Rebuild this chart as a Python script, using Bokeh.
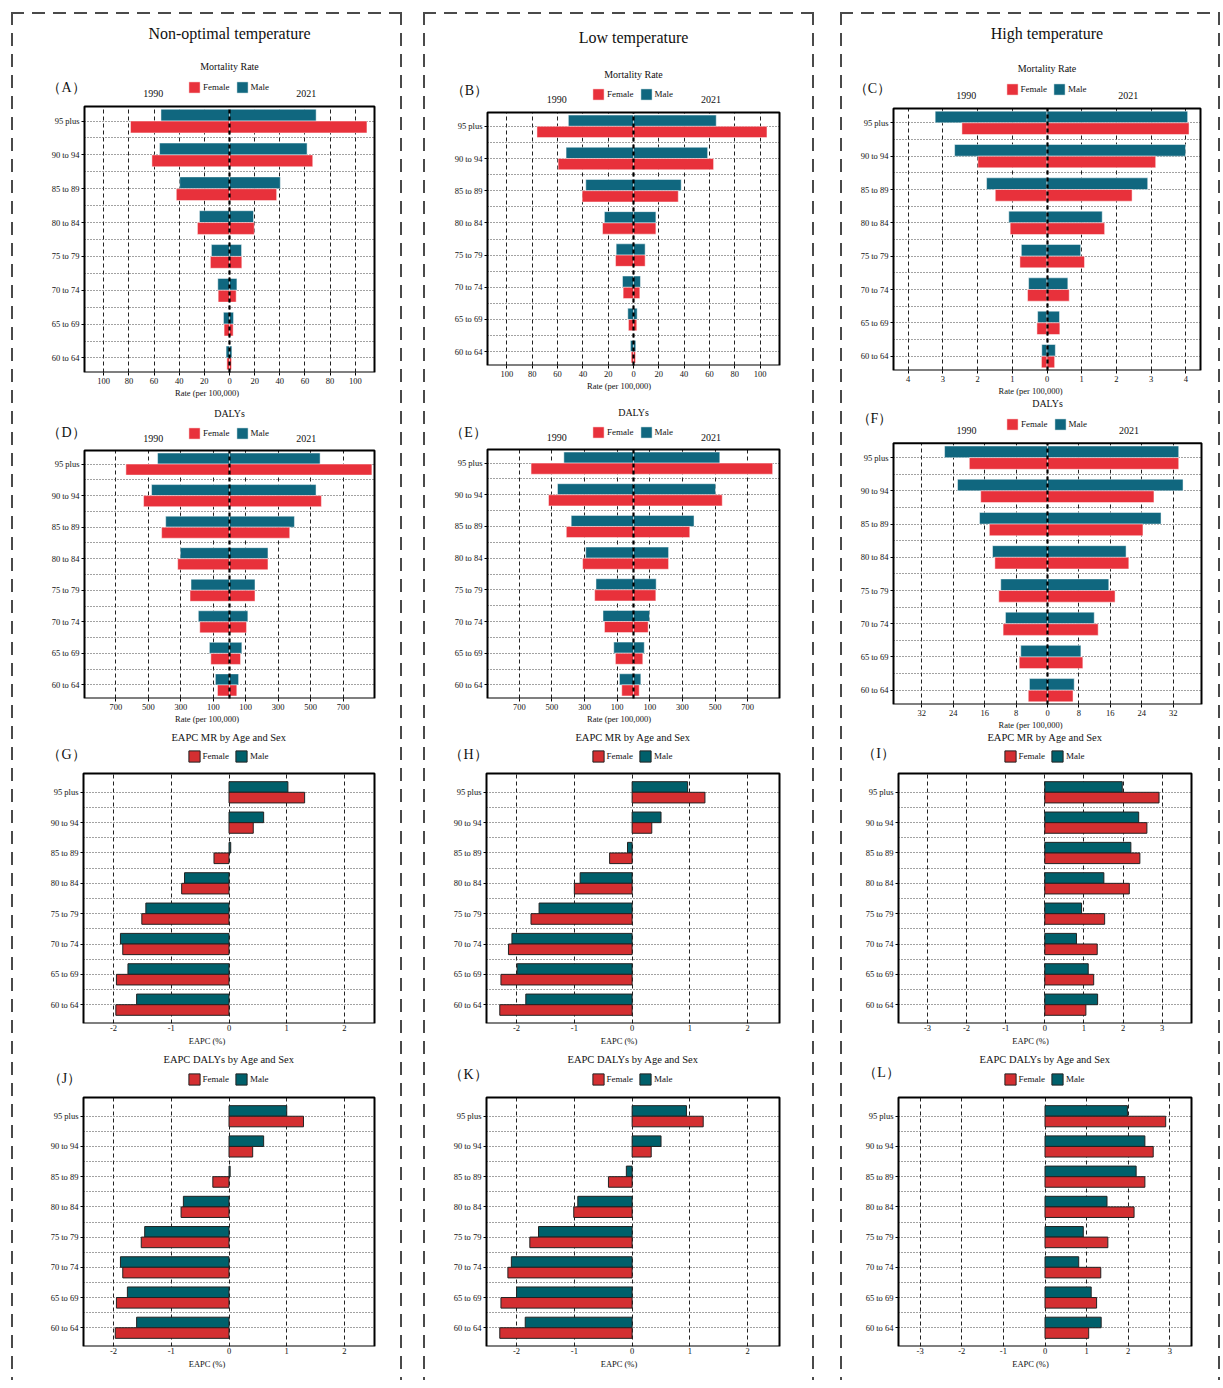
import numpy as np
from bokeh.plotting import figure
from bokeh.models import (ColumnDataSource, Range1d, FixedTicker, CustomJSTickFormatter,
                          Label, Legend, LegendItem, Spacer, Grid, BoxAnnotation)
from bokeh.layouts import row, column
from bokeh.embed import file_html
from bokeh.resources import INLINE

# ---------------- data ----------------
ages = ["60 to 64", "65 to 69", "70 to 74", "75 to 79", "80 to 84", "85 to 89", "90 to 94", "95 plus"]

# (A) Non-optimal temperature, mortality rate
a_m1990 = [2.7, 4.8, 9.3, 14.4, 23.9, 39.6, 55.6, 54.5]
a_m2021 = [1.9, 3.2, 5.9, 9.6, 19.1, 40.4, 61.7, 68.9]
a_f1990 = [2.1, 4.3, 9.0, 15.2, 25.5, 42.3, 61.7, 78.7]
a_f2021 = [1.6, 2.9, 5.3, 9.8, 19.7, 37.5, 66.2, 109.3]
# (B) Low temperature, mortality rate
b_m1990 = [2.4, 4.5, 8.7, 13.7, 23.0, 37.7, 53.3, 51.5]
b_m2021 = [1.8, 2.9, 5.5, 9.2, 17.7, 37.7, 58.6, 65.4]
b_f1990 = [1.8, 4.0, 8.2, 14.2, 24.5, 40.6, 59.6, 76.3]
b_f2021 = [1.6, 2.6, 5.0, 9.2, 17.7, 35.4, 63.3, 105.5]
# (C) High temperature, mortality rate
c_m1990 = [0.15, 0.27, 0.53, 0.74, 1.10, 1.74, 2.66, 3.22]
c_m2021 = [0.24, 0.36, 0.60, 0.97, 1.59, 2.90, 3.99, 4.05]
c_f1990 = [0.16, 0.29, 0.56, 0.78, 1.06, 1.49, 1.99, 2.45]
c_f2021 = [0.22, 0.37, 0.64, 1.08, 1.66, 2.45, 3.13, 4.09]
# (D) Non-optimal temperature, DALYs
d_m1990 = [87, 124, 192, 237, 303, 393, 480, 443]
d_m2021 = [56, 76, 113, 157, 237, 400, 533, 558]
d_f1990 = [74, 115, 183, 243, 319, 418, 529, 638]
d_f2021 = [45, 68, 105, 157, 237, 371, 566, 877]
# (E) Low temperature, DALYs
e_m1990 = [86, 121, 187, 230, 293, 382, 466, 427]
e_m2021 = [45, 66, 98, 139, 215, 371, 503, 529]
e_f1990 = [72, 111, 178, 238, 312, 412, 521, 628]
e_f2021 = [35, 57, 90, 137, 215, 345, 544, 853]
# (F) High temperature, DALYs
f_m1990 = [4.6, 6.8, 10.7, 11.9, 14.0, 17.3, 22.9, 26.2]
f_m2021 = [6.8, 8.5, 11.9, 15.6, 20.0, 28.9, 34.5, 33.4]
f_f1990 = [4.9, 7.2, 11.3, 12.4, 13.4, 14.8, 17.0, 19.9]
f_f2021 = [6.5, 9.0, 12.9, 17.2, 20.7, 24.3, 27.1, 33.4]
# (G)-(L) EAPC
g_male = [-1.60, -1.75, -1.88, -1.44, -0.77, 0.03, 0.60, 1.02]
g_female = [-1.96, -1.95, -1.84, -1.51, -0.82, -0.26, 0.42, 1.31]
h_male = [-1.84, -1.99, -2.08, -1.61, -0.90, -0.08, 0.50, 0.96]
h_female = [-2.29, -2.27, -2.14, -1.75, -1.00, -0.39, 0.34, 1.26]
i_male = [1.35, 1.11, 0.81, 0.94, 1.51, 2.20, 2.40, 1.98]
i_female = [1.05, 1.25, 1.34, 1.53, 2.16, 2.43, 2.61, 2.92]
j_male = [-1.60, -1.76, -1.88, -1.46, -0.79, 0.02, 0.60, 1.00]
j_female = [-1.97, -1.95, -1.84, -1.52, -0.83, -0.28, 0.41, 1.29]
k_male = [-1.85, -2.00, -2.09, -1.62, -0.94, -0.10, 0.50, 0.94]
k_female = [-2.29, -2.27, -2.15, -1.77, -1.01, -0.41, 0.33, 1.23]
l_male = [1.35, 1.11, 0.81, 0.92, 1.49, 2.19, 2.40, 1.98]
l_female = [1.05, 1.24, 1.34, 1.51, 2.14, 2.40, 2.60, 2.90]

ticks_100 = [-100, -80, -60, -40, -20, 0, 20, 40, 60, 80, 100]
ticks_4 = [-4, -3, -2, -1, 0, 1, 2, 3, 4]
ticks_700 = [-700, -500, -300, -100, 100, 300, 500, 700]
ticks_32 = [-32, -24, -16, -8, 0, 8, 16, 24, 32]
ticks_2 = [-2, -1, 0, 1, 2]
ticks_3 = [-3, -2, -1, 0, 1, 2, 3]

# ---------------- style ----------------
FONT = "Liberation Serif"
TXT = "#111111"
PYR_F, PYR_M = "#E8313B", "#10677F"
EAPC_F, EAPC_M = "#D42F31", "#00606B"
BAR_H = 0.35
yidx = np.arange(len(ages))
GEOM = {}
HAS_CB = "cross_bounds" in Grid.properties()


def make_fig(W, H, bl, br, bt, bb, xr, yr, xticks, absolute):
    """Frame covers the whole figure except the bottom axis strip; the plot box
    (xr, yr) sits inside it at the given pixel margins."""
    fw, fh = W - bl - br, H - bt - bb
    sx = (xr[1] - xr[0]) / fw
    sy = (yr[1] - yr[0]) / fh
    p = figure(width=W, height=H,
               x_range=Range1d(xr[0] - bl * sx, xr[1] + br * sx),
               y_range=Range1d(yr[0], yr[1] + bt * sy),
               output_backend="svg", toolbar_location=None,
               min_border_left=0, min_border_right=0, min_border_top=0, min_border_bottom=bb)
    p.outline_line_color = None
    p.background_fill_color = "white"
    p.border_fill_color = "white"
    GEOM[p.id] = (bl, fw, fh)

    # y axis drawn at the left edge of the box
    yt = FixedTicker(ticks=list(yidx), minor_ticks=[i + 0.5 for i in range(len(ages) - 1)])
    p.yaxis.ticker = yt
    p.yaxis.fixed_location = xr[0]
    p.yaxis.bounds = yr
    p.yaxis.major_label_overrides = {int(i): a for i, a in enumerate(ages)}
    p.yaxis.axis_line_color = None
    p.yaxis.major_tick_out = 3
    p.yaxis.major_tick_in = 0
    p.yaxis.minor_tick_out = 0
    p.yaxis.minor_tick_in = 0
    p.yaxis.major_tick_line_color = "black"
    p.yaxis.major_label_standoff = 2
    p.yaxis.major_label_text_font = FONT
    p.yaxis.major_label_text_font_size = "8.5px"
    p.yaxis.major_label_text_color = TXT

    # x axis
    xt = FixedTicker(ticks=xticks)
    p.xaxis.ticker = xt
    p.xaxis.bounds = xr
    if absolute:
        p.xaxis.formatter = CustomJSTickFormatter(code="return Math.abs(tick).toString();")
    else:
        p.xaxis.formatter = CustomJSTickFormatter(code="return tick.toFixed(0);")
    p.xaxis.axis_line_color = None
    p.xaxis.minor_tick_out = 0
    p.xaxis.minor_tick_in = 0
    p.xaxis.major_tick_in = 0
    p.xaxis.major_label_text_font = FONT
    p.xaxis.major_label_text_font_size = "8.5px"
    p.xaxis.major_label_text_color = TXT
    p.xaxis.axis_label_text_font = FONT
    p.xaxis.axis_label_text_font_size = "8.5px"
    p.xaxis.axis_label_text_font_style = "normal"
    p.xaxis.axis_label_text_color = TXT

    # grids limited to the box
    p.xgrid.visible = False
    p.ygrid.visible = False
    vg = dict(dimension=0, ticker=xt, grid_line_color="#222222", grid_line_dash="4 3",
              grid_line_width=1)
    hg = dict(dimension=1, ticker=yt, grid_line_color="#444444", grid_line_dash="1 2",
              grid_line_width=1, minor_grid_line_color="#444444",
              minor_grid_line_dash="1 2", minor_grid_line_width=1)
    if HAS_CB:
        p.add_layout(Grid(cross_bounds=yr, **vg))
        p.add_layout(Grid(cross_bounds=xr, **hg))
    else:
        p.segment(x0=xticks, x1=xticks, y0=yr[0], y1=yr[1], line_color="#222222",
                  line_dash="4 3", line_width=1, level="underlay")
        ys = list(yidx) + [i + 0.5 for i in range(len(ages) - 1)]
        p.segment(x0=xr[0], x1=xr[1], y0=ys, y1=ys, line_color="#444444",
                  line_dash="1 2", line_width=1, level="underlay")
    # plot box
    p.add_layout(BoxAnnotation(left=xr[0], right=xr[1], bottom=yr[0], top=yr[1],
                               fill_alpha=0, line_color="black", line_alpha=1.0,
                               line_width=2, level="overlay"))
    return p


def legend(p, rf, rm, off):
    bl, fw, fh = GEOM[p.id]
    leg = Legend(items=[LegendItem(label="Female", renderers=[rf]),
                        LegendItem(label="Male", renderers=[rm])],
                 orientation="horizontal", location=(bl + fw / 2 - 42, fh + off - 7),
                 glyph_width=14, glyph_height=14, label_height=14, label_width=10,
                 label_standoff=2, spacing=5, padding=0, margin=0,
                 border_line_color=None, background_fill_alpha=0,
                 label_text_font=FONT, label_text_font_size="9px", label_text_color=TXT,
                 label_text_baseline="middle")
    p.add_layout(leg)


def lab(p, dx, dy, text, size):
    bl, fw, fh = GEOM[p.id]
    p.add_layout(Label(x=bl + dx, y=fh + dy, x_units="screen", y_units="screen", text=text,
                       text_align="center", text_baseline="middle", text_font=FONT,
                       text_font_size=size, text_color=TXT))


def pyramid(p, m1990, m2021, f1990, f2021, yr, title, t_off, letter, l_dx, l_off,
            leg_off, yr_off, col_title=None, c_off=0):
    bl, fw, fh = GEOM[p.id]
    src = ColumnDataSource(dict(ym=yidx + BAR_H / 2, yf=yidx - BAR_H / 2,
                                m90=-np.array(m1990, float), m21=np.array(m2021, float),
                                f90=-np.array(f1990, float), f21=np.array(f2021, float)))
    kw = dict(height=BAR_H, line_color="white", line_width=0.6, line_alpha=0.8, source=src)
    rm = p.hbar(y="ym", left="m90", right=0, fill_color=PYR_M, **kw)
    p.hbar(y="ym", left=0, right="m21", fill_color=PYR_M, **kw)
    rf = p.hbar(y="yf", left="f90", right=0, fill_color=PYR_F, **kw)
    p.hbar(y="yf", left=0, right="f21", fill_color=PYR_F, **kw)
    cl = dict(dimension=0, ticker=FixedTicker(ticks=[0]), grid_line_color="black",
              grid_line_width=2.2, grid_line_dash="4 3", level="overlay")
    if HAS_CB:
        p.add_layout(Grid(cross_bounds=yr, **cl))
    else:
        p.segment(x0=[0], x1=[0], y0=yr[0], y1=yr[1], line_color="black",
                  line_width=2.2, line_dash="4 3")
    p.xaxis.axis_label = "Rate (per 100,000)"
    p.xaxis.major_tick_out = 3
    p.xaxis.major_tick_line_color = "black"
    p.xaxis.major_label_standoff = 2
    p.xaxis.axis_label_standoff = 1
    legend(p, rf, rm, leg_off)
    lab(p, fw / 2, t_off, title, "10px")
    lab(p, l_dx, l_off, letter, "14px")
    lab(p, fw * 0.237, yr_off, "1990", "10px")
    lab(p, fw * 0.765, yr_off, "2021", "10px")
    if col_title:
        lab(p, fw / 2, c_off, col_title, "16px")
    return p


def eapc(p, male, female, title, t_off, letter, l_dx, l_off, leg_off):
    bl, fw, fh = GEOM[p.id]
    src = ColumnDataSource(dict(ym=yidx + BAR_H / 2, yf=yidx - BAR_H / 2,
                                male=np.array(male, float), female=np.array(female, float)))
    kw = dict(height=BAR_H, line_color="#222222", line_width=1, source=src)
    rm = p.hbar(y="ym", left=0, right="male", fill_color=EAPC_M, **kw)
    rf = p.hbar(y="yf", left=0, right="female", fill_color=EAPC_F, **kw)
    p.xaxis.axis_label = "EAPC (%)"
    p.xaxis.major_tick_out = 0
    p.xaxis.major_label_standoff = 1
    p.xaxis.axis_label_standoff = 2
    legend(p, rf, rm, leg_off)
    lab(p, fw / 2, t_off, title, "10.5px")
    lab(p, l_dx, l_off, letter, "14px")
    return p


PY = (-0.43, 7.43)
EY = (-0.62, 7.62)

# ---------------- column 1 ----------------
fA = pyramid(make_fig(387, 387, 71, 26, 92, 29, (-115.3, 115.3), PY, ticks_100, True),
             a_m1990, a_m2021, a_f1990, a_f2021, PY, "Mortality Rate", 40,
             "（A）", -18, 19, 19, 13, "Non-optimal temperature", 73)
fD = pyramid(make_fig(387, 326, 71, 26, 49, 29, (-893, 893), PY, ticks_700, True),
             d_m1990, d_m2021, d_f1990, d_f2021, PY, "DALYs", 37,
             "（D）", -18, 18, 17, 12)
fG = eapc(make_fig(387, 324, 70, 26, 46, 28, (-2.52, 2.52), EY, ticks_2, False),
          g_male, g_female, "EAPC MR by Age and Sex", 36, "（G）", -17, 19, 17)
fJ = eapc(make_fig(387, 329, 70, 26, 46, 34, (-2.52, 2.52), EY, ticks_2, False),
          j_male, j_female, "EAPC DALYs by Age and Sex", 38, "（J）", -19, 19, 18)

# ---------------- column 2 ----------------
fB = pyramid(make_fig(387, 387, 62, 33, 98, 36, (-115.4, 115.4), PY, ticks_100, True),
             b_m1990, b_m2021, b_f1990, b_f2021, PY, "Mortality Rate", 38,
             "（B）", -18, 22, 18, 13, "Low temperature", 75)
fE = pyramid(make_fig(387, 326, 62, 33, 48, 29, (-895, 895), PY, ticks_700, True),
             e_m1990, e_m2021, e_f1990, e_f2021, PY, "DALYs", 37,
             "（E）", -19, 17, 17, 12)
fH = eapc(make_fig(387, 324, 61, 33, 46, 28, (-2.52, 2.55), EY, ticks_2, False),
          h_male, h_female, "EAPC MR by Age and Sex", 36, "（H）", -18, 19, 17)
fK = eapc(make_fig(387, 329, 61, 33, 46, 34, (-2.52, 2.55), EY, ticks_2, False),
          k_male, k_female, "EAPC DALYs by Age and Sex", 38, "（K）", -18, 23, 18)

# ---------------- column 3 ----------------
fC = pyramid(make_fig(376, 385, 51, 18, 94, 29, (-4.42, 4.42), PY, ticks_4, True),
             c_m1990, c_m2021, c_f1990, c_f2021, PY, "Mortality Rate", 40,
             "（C）", -21, 20, 19, 13, "High temperature", 75)
fF = pyramid(make_fig(376, 333, 51, 17, 44, 27, (-39.2, 39.2), PY, ticks_32, True),
             f_m1990, f_m2021, f_f1990, f_f2021, PY, "DALYs", 39,
             "（F）", -19, 24, 18, 12)
fI = eapc(make_fig(376, 319, 56, 27, 41, 28, (-3.74, 3.75), EY, ticks_3, False),
          i_male, i_female, "EAPC MR by Age and Sex", 36, "（I）", -20, 20, 17)
fL = eapc(make_fig(376, 329, 56, 27, 46, 34, (-3.52, 3.52), EY, ticks_3, False),
          l_male, l_female, "EAPC DALYs by Age and Sex", 38, "（L）", -17, 25, 18)

DASH = "#4a4a4a"
STY = {
    "padding": "2px 2px 0px 2px",
    "background-color": "white",
    "background-image": (f"linear-gradient(to right, {DASH} 13px, transparent 13px), "
                         f"linear-gradient(to bottom, {DASH} 13px, transparent 13px), "
                         f"linear-gradient(to bottom, {DASH} 13px, transparent 13px)"),
    "background-size": "21px 1.6px, 1.6px 21px, 1.6px 21px",
    "background-repeat": "repeat-x, repeat-y, repeat-y",
    "background-position": "left top, left top, right top",
}

col1 = column(fA, fD, fG, fJ, styles=STY)
col2 = column(fB, fE, fH, fK, styles=STY)
col3 = column(fC, fF, fI, fL, styles=STY)

layout = column(Spacer(height=12),
                row(Spacer(width=11), col1, Spacer(width=21), col2, Spacer(width=26), col3))

open("out.html", "w").write(file_html(layout, INLINE, title="Temperature burden by age and sex"))
